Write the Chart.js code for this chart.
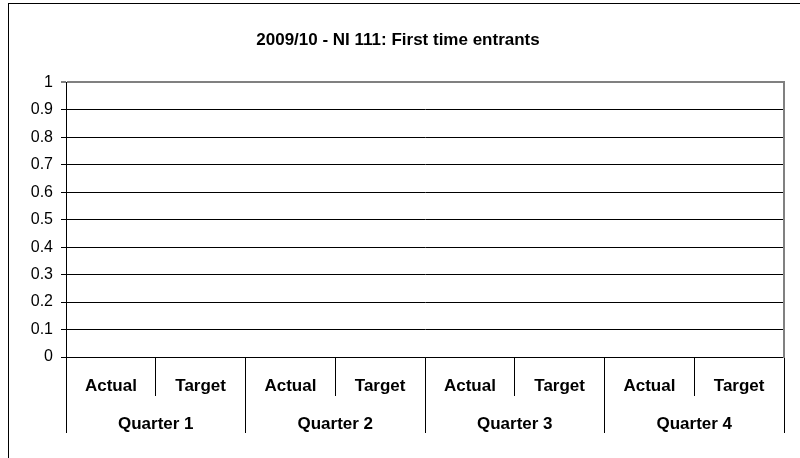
<!DOCTYPE html>
<html>
<head>
<meta charset="utf-8">
<title>2009/10 - NI 111: First time entrants</title>
<script src="https://cdn.jsdelivr.net/npm/chart.js@4.4.1/dist/chart.umd.min.js"></script>
<style>
    html, body { margin: 0; padding: 0; background: #fff; overflow: hidden; }
    #frame {
        position: absolute; left: 8px; top: 3px; width: 900px; height: 600px;
        border-left: 1px solid #000; border-top: 1px solid #000;
    }
    #chart { position: absolute; left: 0; top: 0; }
</style>
</head>
<body>
<div id="frame"></div>
<canvas id="chart" width="800" height="458"></canvas>
<script>
// --- Data ---
const titleText = '2009/10 - NI 111: First time entrants';
const seriesLabels = ['Actual', 'Target', 'Actual', 'Target', 'Actual', 'Target', 'Actual', 'Target'];
const quarterLabels = ['Quarter 1', 'Quarter 2', 'Quarter 3', 'Quarter 4'];
// no values reported for any quarter yet
const seriesValues = [null, null, null, null, null, null, null, null];
const yTickLabels = ['0', '0.1', '0.2', '0.3', '0.4', '0.5', '0.6', '0.7', '0.8', '0.9', '1'];

// --- Styling ---
const FONT = "'Liberation Sans', Arial, sans-serif";

const ctx = document.getElementById('chart').getContext('2d');

new Chart(ctx, {
    type: 'bar',
    data: {
        labels: seriesLabels,
        datasets: [{
            label: 'NI 111',
            data: seriesValues,
            backgroundColor: '#9999ff',
            borderColor: '#000',
            borderWidth: 1
        }]
    },
    options: {
        responsive: false,
        animation: false,
        devicePixelRatio: 1,
        layout: { padding: { left: 12, right: 16, top: 0, bottom: 25 } },
        plugins: {
            legend: { display: false },
            tooltip: { enabled: false },
            title: {
                display: true,
                text: titleText,
                color: '#000',
                font: { family: FONT, size: 17, weight: 'bold' },
                padding: { top: 30, bottom: 32 }
            }
        },
        scales: {
            x: {
                type: 'category',
                position: 'bottom',
                offset: true,
                grid: { offset: true, drawOnChartArea: false, tickLength: 39, color: '#000' },
                border: { display: true, color: '#000', width: 1 },
                ticks: {
                    color: '#000',
                    font: { family: FONT, size: 17, weight: 'bold' },
                    padding: -20.2,
                    maxRotation: 0,
                    autoSkip: false
                },
                afterFit: s => { s.height = 39; }
            },
            x2: {
                type: 'category',
                labels: quarterLabels,
                position: 'bottom',
                offset: true,
                grid: { offset: true, drawOnChartArea: false, tickLength: 37, color: '#000' },
                border: { display: false },
                ticks: {
                    color: '#000',
                    font: { family: FONT, size: 17, weight: 'bold' },
                    padding: -19.2,
                    maxRotation: 0,
                    autoSkip: false
                },
                afterFit: s => { s.height = 37; }
            },
            y: {
                min: 0,
                max: 1,
                position: 'left',
                grid: {
                    color: c => (c.tick && c.tick.value === 1) ? '#808080' : '#000',
                    lineWidth: c => (c.tick && c.tick.value === 1) ? 2 : 1,
                    tickLength: 5
                },
                border: { color: '#000', width: 1 },
                ticks: {
                    stepSize: 0.1,
                    color: '#000',
                    font: { family: FONT, size: 16 },
                    padding: 8,
                    callback: (v, i) => yTickLabels[i]
                },
                afterFit: s => { s.width = 54; }
            },
            y2: {
                position: 'right',
                min: 0,
                max: 1,
                grid: { display: false },
                ticks: { display: false },
                border: { display: true, color: '#808080', width: 2 },
                afterFit: s => { s.width = 0; }
            }
        }
    }
});
</script>
</body>
</html>
